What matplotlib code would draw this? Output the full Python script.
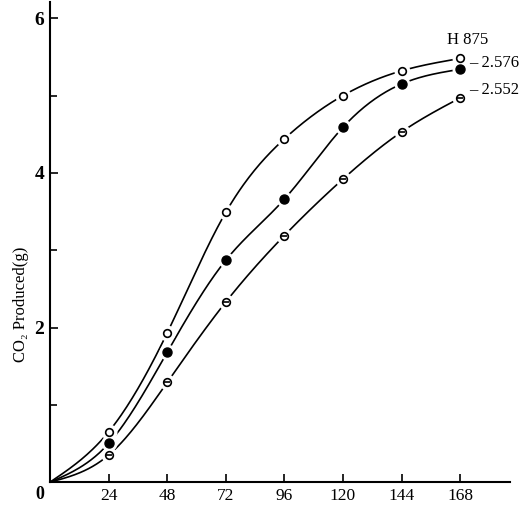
import numpy as np
import matplotlib
matplotlib.use("Agg")
import matplotlib.pyplot as plt

hours = [0, 24, 48, 72, 96, 120, 144, 168]
h875 = [0, 0.65, 1.93, 3.49, 4.44, 5.00, 5.32, 5.48]
s2576 = [0, 0.50, 1.68, 2.87, 3.66, 4.59, 5.15, 5.34]
s2552 = [0, 0.35, 1.29, 2.33, 3.19, 3.92, 4.53, 4.97]
x_ticks = [24, 48, 72, 96, 120, 144, 168]
y_ticks = [2, 4, 6]


def smooth(x, y, n=300):
    # natural cubic spline, only used to draw the curve through the points
    x = np.asarray(x, float)
    y = np.asarray(y, float)
    k = len(x)
    h = np.diff(x)
    A = np.zeros((k, k))
    b = np.zeros(k)
    A[0, 0] = 1
    A[-1, -1] = 1
    for i in range(1, k - 1):
        A[i, i - 1] = h[i - 1]
        A[i, i] = 2 * (h[i - 1] + h[i])
        A[i, i + 1] = h[i]
        b[i] = 6 * ((y[i + 1] - y[i]) / h[i] - (y[i] - y[i - 1]) / h[i - 1])
    M = np.linalg.solve(A, b)
    xs = np.linspace(x[0], x[-1], n)
    idx = np.clip(np.searchsorted(x, xs) - 1, 0, k - 2)
    x0, x1 = x[idx], x[idx + 1]
    hh = h[idx]
    ys = (M[idx] * (x1 - xs) ** 3 / (6 * hh)
          + M[idx + 1] * (xs - x0) ** 3 / (6 * hh)
          + (y[idx] / hh - M[idx] * hh / 6) * (x1 - xs)
          + (y[idx + 1] / hh - M[idx + 1] * hh / 6) * (xs - x0))
    return xs, ys


fig = plt.figure(figsize=(5.32, 5.07), dpi=100)
ax = fig.add_axes([0.094, 0.049, 0.865, 0.947])
serif = "Liberation Serif"

for ys in (h875, s2576, s2552):
    sx, sy = smooth(hours, ys)
    ax.plot(sx, sy, color="black", lw=1.2, zorder=2)
    # white halo to break the line around each marker
    ax.plot(hours[1:], ys[1:], ls="none", marker="o", ms=10.5,
            color="white", zorder=3)

ax.plot(hours[1:], h875[1:], ls="none", marker="o", ms=5.5,
        mfc="white", mec="black", mew=1.2, zorder=4)
ax.plot(hours[1:], s2576[1:], ls="none", marker="o", ms=6.5,
        mfc="black", mec="black", zorder=4)
ax.plot(hours[1:], s2552[1:], ls="none", marker="o", ms=5.5,
        mfc="white", mec="black", mew=1.2, zorder=4)
ax.plot(hours[1:], s2552[1:], ls="none", marker="_", ms=4,
        color="black", mew=1.2, zorder=5)

ax.text(171, 5.62, "H 875", ha="center", va="bottom", fontsize=12,
        family=serif)
ax.text(171.5, s2576[-1] + 0.08, "– 2.576", ha="left", va="center",
        fontsize=12, family=serif)
ax.text(171.5, s2552[-1] + 0.1, "– 2.552", ha="left", va="center",
        fontsize=12, family=serif)

ax.set_xlim(0, 188.5)
ax.set_ylim(0, 6.21)
ax.spines["top"].set_visible(False)
ax.spines["right"].set_visible(False)
for s in ("left", "bottom"):
    ax.spines[s].set_linewidth(1.5)

ax.set_xticks(x_ticks)
ax.set_xticklabels([str(v) for v in x_ticks], family=serif, fontsize=12.5)
ax.set_yticks(y_ticks)
ax.set_yticklabels([str(v) for v in y_ticks], family=serif, fontsize=14,
                   fontweight="bold")
ax.set_yticks([1, 3, 5], minor=True)
ax.tick_params(axis="x", direction="in", length=6, width=1.2, pad=4)
ax.tick_params(axis="y", direction="in", length=6, width=1.2, pad=4)
ax.tick_params(axis="y", which="minor", direction="in", length=5, width=1.2)
ax.text(-0.012, -0.008, "0", transform=ax.transAxes, ha="right", va="top",
        fontsize=13, family=serif, fontweight="bold")

ax.set_ylabel("CO₂ Produced(g)", family=[serif, "DejaVu Sans"], fontsize=12)
ax.yaxis.set_label_coords(-0.045, 0.37)

fig.savefig("out.png", dpi=100)
